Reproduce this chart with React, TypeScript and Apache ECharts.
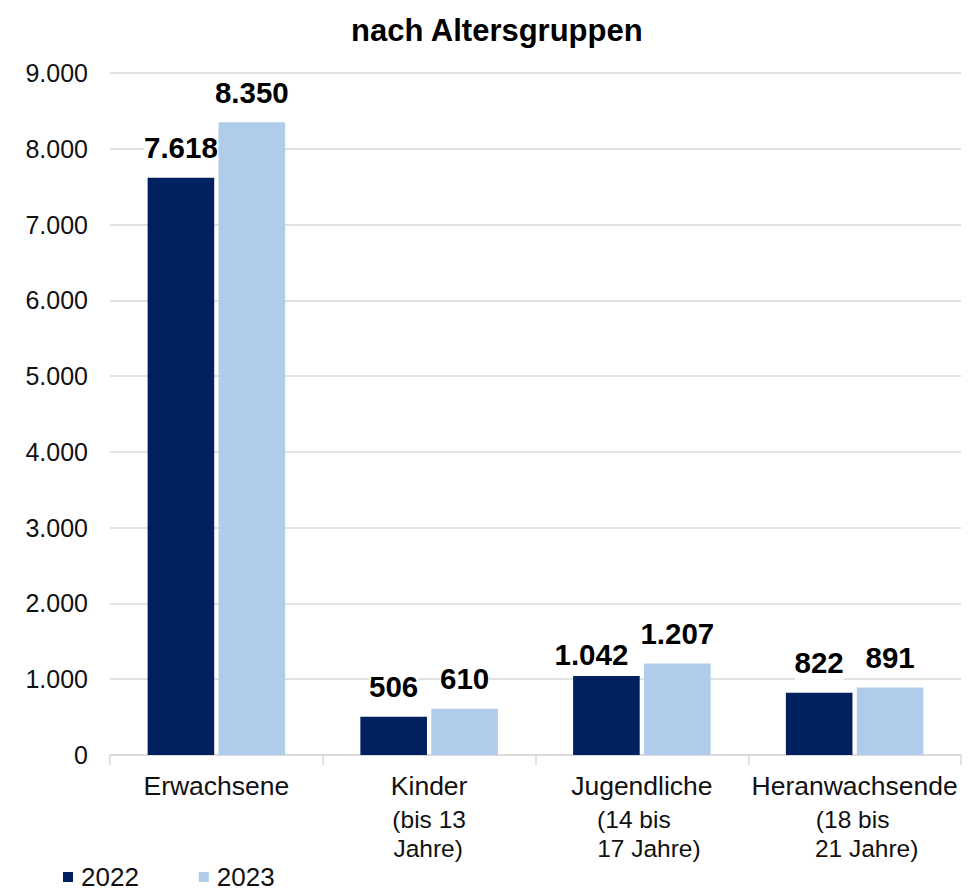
import React, { useEffect, useRef } from "react";
import * as echarts from "echarts";

const titleText = "nach Altersgruppen";
const categories = ["Erwachsene", "Kinder", "Jugendliche", "Heranwachsende"];
const categorySubLines: string[][] = [[], ["(bis 13", "Jahre)"], ["(14 bis", "17 Jahre)"], ["(18 bis", "21 Jahre)"]];
const seriesNames = ["2022", "2023"];
const values2022 = [7618, 506, 1042, 822];
const values2023 = [8350, 610, 1207, 891];
const yMin = 0;
const yMax = 9000;
const yInterval = 1000;

// layout only: horizontal shift (px) of each sub-line relative to the category centre
const subLineShift: number[][] = [[], [0, -1], [-8, 7], [-2, 12]];

const FONT = "'Liberation Sans', Arial, sans-serif";
const fmt = (v: number) => String(v).replace(/\B(?=(\d{3})+(?!\d))/g, ".");

export default function App() {
  const ref = useRef<HTMLDivElement>(null);
  useEffect(() => {
    if (!ref.current) return;
    const chart = echarts.init(ref.current, null, { renderer: "svg" });

    const rich: Record<string, any> = {
      m: { fontSize: 26.5, lineHeight: 38, color: "#111", fontFamily: FONT },
    };
    categorySubLines.forEach((lines, i) => {
      lines.forEach((_, j) => {
        const d = (subLineShift[i] && subLineShift[i][j]) || 0;
        rich[`s${i}_${j}`] = {
          fontSize: 24.5,
          lineHeight: 29,
          color: "#111",
          fontFamily: FONT,
          padding: d >= 0 ? [0, 0, 0, 2 * d] : [0, -2 * d, 0, 0],
        };
      });
    });

    const labelBase = {
      show: true,
      position: "top",
      distance: 13,
      fontSize: 29.5,
      fontWeight: "bold",
      color: "#000",
      fontFamily: FONT,
      backgroundColor: "#fff",
      padding: [2, 0],
      formatter: (p: any) => fmt(p.value),
    };

    chart.setOption({
      animation: false,
      backgroundColor: "#fff",
      textStyle: { fontFamily: FONT },
      title: {
        text: titleText,
        left: 346,
        top: 10,
        textStyle: { fontSize: 31, fontWeight: "bold", color: "#000", fontFamily: FONT },
      },
      legend: {
        data: seriesNames,
        left: 58,
        top: 859,
        icon: "rect",
        itemWidth: 10,
        itemHeight: 10,
        itemGap: 60,
        textStyle: { fontSize: 26, color: "#111", fontFamily: FONT, padding: [0, 0, 0, 3] },
      },
      grid: { left: 110, right: 11, top: 73, bottom: 136, containLabel: false },
      xAxis: {
        type: "category",
        data: categories,
        axisLine: { lineStyle: { color: "#d9d9d9", width: 1.5 } },
        axisTick: { show: true, length: 10, lineStyle: { color: "#d9d9d9", width: 1.5 } },
        axisLabel: {
          margin: 12,
          interval: 0,
          formatter: (value: string, index: number) => {
            const parts = [`{m|${value}}`];
            (categorySubLines[index] || []).forEach((t, j) => parts.push(`{s${index}_${j}|${t}}`));
            return parts.join("\n");
          },
          rich,
        },
      },
      yAxis: {
        type: "value",
        min: yMin,
        max: yMax,
        interval: yInterval,
        axisLine: { show: false },
        axisTick: { show: false },
        splitLine: { lineStyle: { color: "#d9d9d9", width: 1.5 } },
        axisLabel: {
          margin: 22,
          fontSize: 25,
          color: "#111",
          fontFamily: FONT,
          formatter: (v: number) => fmt(v),
        },
      },
      series: [
        {
          name: seriesNames[0],
          type: "bar",
          data: values2022.map((v, i) => (i === 2 ? { value: v, label: { offset: [-15, 8] } } : v)),
          barWidth: "31.3%",
          barGap: "6.5%",
          itemStyle: { color: "#002060" },
          label: labelBase,
        },
        {
          name: seriesNames[1],
          type: "bar",
          data: values2023,
          barWidth: "31.3%",
          barGap: "6.5%",
          itemStyle: { color: "#afcdea" },
          label: labelBase,
        },
      ],
    });
    return () => chart.dispose();
  }, []);
  return (
    <div
      ref={ref}
      style={{ position: "fixed", left: 0, top: 0, width: 972, height: 891, background: "#fff" }}
    />
  );
}
